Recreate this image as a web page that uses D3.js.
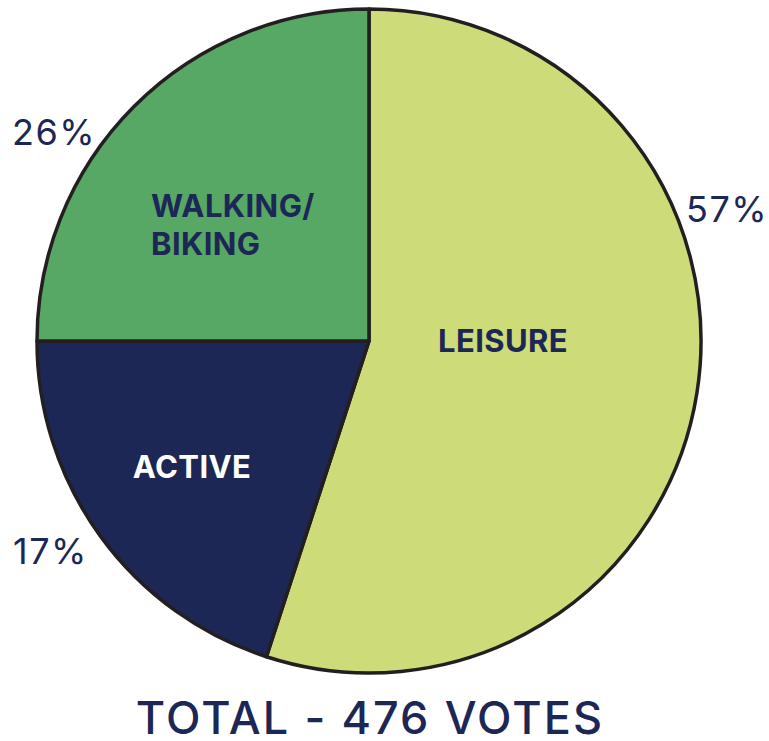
<!DOCTYPE html>
<html>
<head>
<meta charset="utf-8">
<script src="https://cdn.jsdelivr.net/npm/d3@7"></script>
<style>
  body { margin: 0; background: #fff; }
  text { font-family: Inter, "Open Sans", sans-serif; }
</style>
</head>
<body>
<div id="chart"></div>
<script>
// Slice names, printed percentages and the shares the wedges are drawn with
const categories = ["LEISURE", "ACTIVE", "WALKING/BIKING"];
const percentLabels = ["57%", "17%", "26%"];
const drawnShares = [55, 20, 25];
const sliceColors = ["#cddb78", "#1c2755", "#57a765"];
const totalVotes = 476;

const width = 769, height = 741;
const cx = 369, cy = 341, radius = 332;
const navy = "#1c2755";

const svg = d3.select("#chart").append("svg")
    .attr("width", width)
    .attr("height", height);

const data = categories.map((c, i) => ({
    name: c, share: drawnShares[i], pct: percentLabels[i], color: sliceColors[i]
}));

const pie = d3.pie().value(d => d.share).sort(null);
const arc = d3.arc().innerRadius(0).outerRadius(radius);

const g = svg.append("g")
    .attr("transform", "translate(" + cx + "," + cy + ")");

const arcs = pie(data);

g.selectAll("path")
    .data(arcs)
    .enter().append("path")
    .attr("d", arc)
    .style("fill", d => d.data.color)
    .style("stroke", "#231f20")
    .style("stroke-width", 3.5)
    .style("stroke-linejoin", "round");

// labels inside slices
const inner = [
    { lines: ["LEISURE"], x: 134, y: 0, fill: navy, anchor: "middle" },
    { lines: ["ACTIVE"], x: -177, y: 126, fill: "#ffffff", anchor: "middle" },
    { lines: ["WALKING/", "BIKING"], x: -218, y: -124, fill: navy, anchor: "start" }
];

inner.forEach(l => {
    const t = g.append("text")
        .attr("x", l.x)
        .attr("y", l.y)
        .attr("text-anchor", l.anchor)
        .style("font-size", "31px")
        .style("font-weight", 700)
        .style("letter-spacing", "0.4px")
        .style("fill", l.fill);
    l.lines.forEach((ln, i) => {
        t.append("tspan")
            .attr("x", l.x)
            .attr("dy", i === 0 ? (l.lines.length === 1 ? "0.36em" : "0") : "1.24em")
            .text(ln);
    });
});

// outside percentage labels
const outside = [
    { x: 686, y: 222 },
    { x: 13, y: 564 },
    { x: 12, y: 145 }
];

svg.selectAll(".pct")
    .data(data)
    .enter().append("text")
    .attr("class", "pct")
    .attr("x", (d, i) => outside[i].x)
    .attr("y", (d, i) => outside[i].y)
    .style("font-size", "36px")
    .style("font-weight", 400)
    .style("letter-spacing", "1.5px")
    .style("fill", navy)
    .text(d => d.pct);

svg.append("text")
    .attr("x", cx + 1)
    .attr("y", 734)
    .attr("text-anchor", "middle")
    .style("font-size", "45px")
    .style("font-weight", 500)
    .style("letter-spacing", "2.1px")
    .style("fill", navy)
    .text("TOTAL - " + totalVotes + " VOTES");
</script>
</body>
</html>
